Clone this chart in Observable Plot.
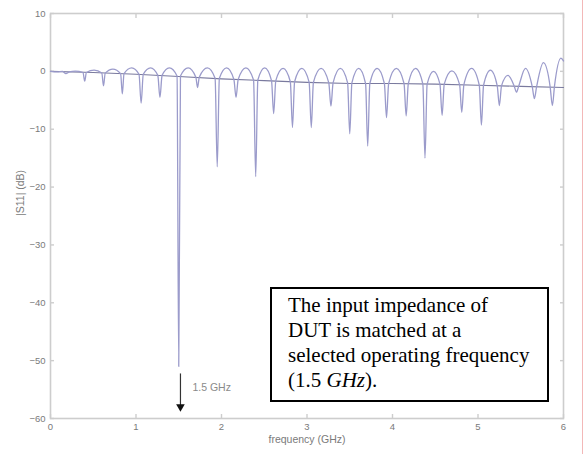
<!DOCTYPE html>
<html>
<head>
<meta charset="utf-8">
<script src="https://cdn.jsdelivr.net/npm/d3@7"></script>
<script src="https://cdn.jsdelivr.net/npm/@observablehq/plot@0.6"></script>
<style>
  body { margin: 0; background: #fff; }
  #wrap { position: relative; width: 584px; height: 454px; overflow: hidden; background: #fff; }
  #note {
    position: absolute; left: 270px; top: 287px; width: 259px; height: 107px;
    border: 2px solid #000; background: #fff;
    font-family: "Liberation Serif", "Times New Roman", serif; font-size: 21px; line-height: 25px;
    padding: 4px 0 0 16px; color: #000; white-space: nowrap;
  }
  #edge { position: absolute; left: 582px; top: 0; width: 1px; height: 454px; background: #f3b8b8; }
</style>
</head>
<body>
<div id="wrap">
  <div id="chart"></div>
  <div id="note">The input impedance of<br>DUT is matched at a<br>selected operating frequency<br>(1.5 <i>GHz</i>).</div>
  <div id="edge"></div>
</div>
<script>
// |S11| trace (GHz, dB)
const traceF = [0, 0.08, 0.14, 0.18, 0.22, 0.29, 0.38, 0.40, 0.42, 0.51, 0.60, 0.62, 0.64, 0.73, 0.82, 0.84, 0.86, 0.95,
  1.035, 1.06, 1.085, 1.17, 1.255, 1.28, 1.305, 1.39, 1.48, 1.50, 1.52, 1.61, 1.70, 1.72, 1.74, 1.835,
  1.925, 1.95, 1.975, 2.06, 2.145, 2.17, 2.195, 2.285, 2.375, 2.40, 2.425, 2.505, 2.585, 2.61, 2.635, 2.72,
  2.805, 2.83, 2.855, 2.94, 3.025, 3.05, 3.075, 3.165, 3.255, 3.28, 3.305, 3.39, 3.475, 3.50, 3.525, 3.605,
  3.685, 3.71, 3.735, 3.82, 3.905, 3.93, 3.955, 4.045, 4.135, 4.16, 4.185, 4.27, 4.355, 4.38, 4.405, 4.48,
  4.555, 4.58, 4.605, 4.695, 4.785, 4.81, 4.835, 4.925, 5.015, 5.04, 5.065, 5.145, 5.225, 5.25, 5.275, 5.35,
  5.425, 5.45, 5.475, 5.555, 5.635, 5.66, 5.685, 5.765, 5.845, 5.87, 5.895, 5.97, 6.0];
const traceDB = [0, -0.1, 0.0, -0.4, -0.1, 0.05, -0.2, -1.7, -0.2, 0.2, -0.3, -2.5, -0.3, 0.4, -0.4, -3.9, -0.4, 0.6,
  -0.5, -5.5, -0.5, 0.6, -0.7, -4.5, -0.7, 0.6, -0.8, -51, -0.8, 0.6, -1.0, -2.8, -1.0, 0.6,
  -1.2, -16.5, -1.2, 0.6, -1.4, -4.5, -1.4, 0.6, -1.5, -18.2, -1.5, 0.6, -1.6, -7.3, -1.6, 0.5,
  -1.8, -9.7, -1.8, 0.5, -1.9, -9.7, -1.9, 0.5, -2.0, -6.0, -2.0, 0.5, -2.0, -10.8, -2.0, 0.5,
  -2.1, -12.9, -2.1, 0.5, -2.1, -8.0, -2.1, 0.5, -2.1, -7.7, -2.1, 0.5, -2.2, -15.0, -2.2, 0.0,
  -2.2, -7.6, -2.2, 0.1, -2.3, -7.1, -2.3, 0.5, -2.4, -9.3, -2.4, 0.2, -2.5, -5.9, -2.5, -0.7,
  -2.6, -3.6, -2.6, 0.5, -2.7, -4.7, -2.7, 1.5, -2.8, -5.9, -2.5, 2.3, 1.8];

// reference (average) line
const lineF = [0, 0.5, 1.0, 1.5, 2.0, 2.5, 3.0, 3.5, 4.0, 4.5, 5.0, 5.5, 6.0];
const lineDB = [0, -0.2, -0.5, -0.9, -1.3, -1.6, -1.9, -2.1, -2.1, -2.2, -2.4, -2.6, -2.8];

// axes
const xTicks = [0, 1, 2, 3, 4, 5, 6];
const yTicks = [10, 0, -10, -20, -30, -40, -50, -60];
const xTitle = "frequency (GHz)";
const yTitle = "|S11| (dB)";

// 1.5 GHz marker
const markF = [1.52];
const markTop = [-52.3];
const markTip = [-58.3];
const markLabelF = [1.66];
const markLabelDB = [-54.7];
const markLabel = ["1.5 GHz"];

const trace = traceF.map((f, i) => ({f, db: traceDB[i]}));
const avg = lineF.map((f, i) => ({f, db: lineDB[i]}));
const marker = markF.map((f, i) => ({f, top: markTop[i], tip: markTip[i], lf: markLabelF[i], ldb: markLabelDB[i], text: markLabel[i]}));

const axisGray = "#cdcdcd";
const textGray = "#7a7a7a";
const noLabel = () => "";

const chart = Plot.plot({
  width: 584,
  height: 454,
  marginLeft: 50,
  marginRight: 21,
  marginTop: 13,
  marginBottom: 36,
  x: {domain: [0, 6]},
  y: {domain: [-60, 10]},
  style: {fontFamily: "'Liberation Sans', Arial, sans-serif", fontSize: "9.5px", color: textGray, background: "#fff"},
  marks: [
    Plot.frame({stroke: axisGray, strokeWidth: 1.6}),
    Plot.axisX(xTicks, {anchor: "bottom", tickSize: -4, tickPadding: 9, stroke: axisGray, strokeWidth: 1.4, fill: textGray, label: null}),
    Plot.axisX(xTicks, {anchor: "top", tickSize: -4, tickFormat: noLabel, stroke: axisGray, strokeWidth: 1.4, label: null}),
    Plot.axisY(yTicks, {anchor: "left", tickSize: -4, tickPadding: 9, stroke: axisGray, strokeWidth: 1.4, fill: textGray, label: null}),
    Plot.axisY(yTicks, {anchor: "right", tickSize: -4, tickFormat: noLabel, stroke: axisGray, strokeWidth: 1.4, label: null}),
    Plot.line(avg, {x: "f", y: "db", stroke: "#7a7a9e", strokeWidth: 1.1}),
    Plot.line(trace, {x: "f", y: "db", stroke: "#9b9bcb", strokeWidth: 1.3, curve: "monotone-x"}),
    Plot.ruleX(marker, {x: "f", y1: "top", y2: "tip", stroke: "#333", strokeWidth: 1.2}),
    Plot.dot(marker, {x: "f", y: "tip", symbol: "triangle", rotate: 180, r: 3.2, fill: "#111", stroke: "none", dy: -2}),
    Plot.text(marker, {x: "lf", y: "ldb", text: "text", textAnchor: "start", fill: "#8a8a8a", fontSize: 10.5}),
    Plot.text([xTitle], {frameAnchor: "bottom", dy: 24, fill: textGray, fontSize: 10.5}),
    Plot.text([yTitle], {frameAnchor: "left", dx: -30, rotate: -90, fill: textGray, fontSize: 10.5})
  ]
});
document.getElementById("chart").appendChild(chart);
</script>
</body>
</html>
